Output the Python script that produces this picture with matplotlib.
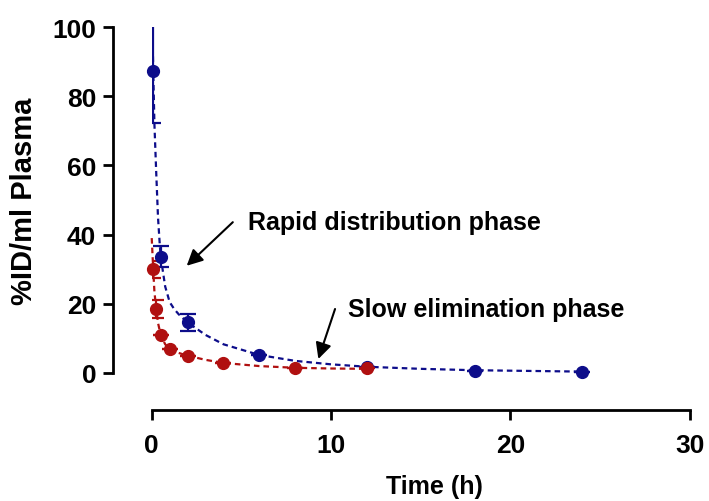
import numpy as np
import matplotlib.pyplot as plt

plt.rcParams['font.family'] = ['Liberation Sans', 'DejaVu Sans']
plt.rcParams['font.weight'] = 'bold'

# -------------------------
# Data
# -------------------------
t_blue = [0.083, 0.5, 2, 6, 12, 18, 24]
y_blue = [87.4, 33.6, 14.6, 5.2, 1.8, 0.7, 0.4]
err_blue = [15.0, 3.0, 2.4, 0, 0, 0, 0]

t_red = [0.083, 0.25, 0.5, 1, 2, 4, 8, 12]
y_red = [30.0, 18.5, 11.0, 6.8, 5.0, 2.9, 1.4, 1.3]
err_red = [2.4, 2.6, 0, 0, 0, 0, 0, 0]

# dashed fit curves
fit_t_blue = [0, 0.083, 0.15, 0.25, 0.35, 0.45, 0.5, 0.75, 1, 1.25, 1.5, 2, 3, 4, 6, 8, 10, 12, 15, 18, 21, 24]
fit_blue = [112, 87.4, 72, 58, 45, 37, 33.6, 25, 20.5, 18.5, 17.0, 14.6, 11.0, 8.3, 5.2, 3.5, 2.5, 1.8, 1.2, 0.8, 0.6, 0.4]
fit_t_red = [0, 0.083, 0.15, 0.25, 0.35, 0.5, 0.75, 1, 1.5, 2, 3, 4, 6, 8, 10, 12]
fit_red = [39, 30, 23.5, 18.5, 14.5, 11, 8.3, 6.9, 5.8, 5.0, 3.8, 2.9, 2.0, 1.5, 1.3, 1.2]

x_ticks = [0, 10, 20, 30]
y_ticks = [0, 20, 40, 60, 80, 100]

blue = '#0d0d8a'
red = '#b01010'

# -------------------------
# Plot
# -------------------------
fig = plt.figure(figsize=(7.09, 5.02), dpi=100)
ax = fig.add_axes([0.214, 0.255, 0.759, 0.689])

ax.plot(fit_t_blue, fit_blue, '--', color=blue, lw=1.6, dashes=(2.5, 1.8))
ax.plot(fit_t_red, fit_red, '--', color=red, lw=1.6, dashes=(2.5, 1.8), clip_on=False)

ax.errorbar(t_blue, y_blue, yerr=err_blue, fmt='none', ecolor=blue, elinewidth=1.6,
            capsize=6, capthick=1.6)
ax.errorbar(t_red, y_red, yerr=err_red, fmt='none', ecolor=red, elinewidth=1.6,
            capsize=6, capthick=1.6)
ax.plot(t_blue, y_blue, 'o', color=blue, ms=8.5, clip_on=False, zorder=5)
ax.plot(t_red, y_red, 'o', color=red, ms=8.5, clip_on=False, zorder=5)

ax.set_xlim(0, 30)
ax.set_ylim(0, 100)

# Prism-style offset axes
for s in ['top', 'right']:
    ax.spines[s].set_visible(False)
ax.spines['left'].set_position(('outward', 28))
ax.spines['left'].set_bounds(0, 100)
ax.spines['bottom'].set_position(('outward', 27))
ax.spines['bottom'].set_bounds(0, 30)
for s in ['left', 'bottom']:
    ax.spines[s].set_linewidth(2)

ax.set_xticks(x_ticks)
ax.set_yticks(y_ticks)
ax.tick_params(axis='y', direction='out', length=7, width=2, labelsize=19, pad=5)
ax.tick_params(axis='x', direction='out', length=7, width=2, labelsize=19, pad=9)

ax.set_ylabel('%ID/ml Plasma', fontsize=21, fontweight='bold')
ax.yaxis.set_label_coords(-0.212, 0.5)
ax.set_xlabel('Time (h)', fontsize=18, fontweight='bold')
ax.xaxis.set_label_coords(0.526, -0.292)

# annotations
arrow = dict(arrowstyle='-|>', color='black', lw=1.5, mutation_scale=24, shrinkA=0, shrinkB=0)
ax.annotate('', xy=(1.95, 31.0), xytext=(4.52, 43.6), arrowprops=arrow)
ax.text(5.37, 43.6, 'Rapid distribution phase', fontsize=18, fontweight='bold', va='center')
ax.annotate('', xy=(9.29, 4.05), xytext=(10.22, 18.5), arrowprops=arrow)
ax.text(10.95, 18.5, 'Slow elimination phase', fontsize=18, fontweight='bold', va='center')

fig.savefig('out.png', dpi=100)
